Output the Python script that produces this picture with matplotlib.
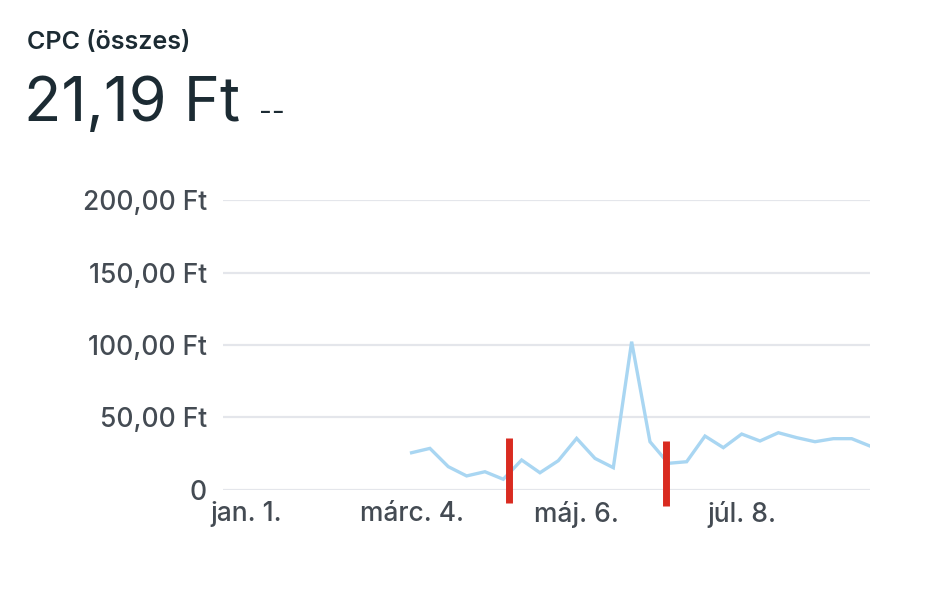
import datetime as dt
import matplotlib
matplotlib.use('Agg')
import matplotlib.pyplot as plt
import matplotlib.dates as mdates
from matplotlib.ticker import FixedLocator, FuncFormatter

plt.rcParams['font.family'] = ['Inter', 'DejaVu Sans']

# adatok (heti CPC, Ft)
start_week = dt.date(2024, 3, 4)
cpc_values = [25.7, 28.7, 16.1, 9.7, 12.6, 7.4, 20.7, 11.9, 20.2, 35.6,
              21.8, 15.4, 102.3, 33.3, 18.4, 19.5, 37.2, 29.2, 38.6, 33.8,
              39.5, 36.1, 33.3, 35.4, 35.4, 30.3]
weeks = [start_week + dt.timedelta(weeks=i) for i in range(len(cpc_values))]

tick_dates = [dt.date(2024, 1, 1), dt.date(2024, 3, 4), dt.date(2024, 5, 6), dt.date(2024, 7, 8)]
tick_labels = ['jan. 1.', 'márc. 4.', 'máj. 6.', 'júl. 8.']
y_ticks = [0, 50, 100, 150, 200]

# piros jelölések
marker_dates = [dt.date(2024, 4, 10), dt.date(2024, 6, 9)]
marker_top = [36, 34]
marker_bottom = [-9, -11]

title = 'CPC (összes)'
total = '21,19 Ft'

text_col = '#1c2b33'
tick_col = '#444b53'

fig = plt.figure(figsize=(9.46, 5.9), dpi=100)
ax = fig.add_axes([0.2357, 0.1695, 0.684, 0.4915])

ax.plot(weeks, cpc_values, color='#a9d6f2', lw=2.4, solid_joinstyle='miter', zorder=3)

for d, top, bot in zip(marker_dates, marker_top, marker_bottom):
    ax.plot([d, d], [bot, top], color='#d92b20', lw=5, solid_capstyle='butt',
            clip_on=False, zorder=4)

ax.set_ylim(0, 200)
ax.set_xlim(dt.date(2023, 12, 23), weeks[-1])
ax.yaxis.set_major_locator(FixedLocator(y_ticks))
ax.yaxis.set_major_formatter(FuncFormatter(lambda v, p: '0' if v == 0 else f'{v:.2f}'.replace('.', ',') + ' Ft'))
ax.set_xticks([mdates.date2num(d) for d in tick_dates])
ax.set_xticklabels(tick_labels)

ax.grid(axis='y', color='#e4e6eb', lw=1.6)
ax.set_axisbelow(True)
for s in ax.spines.values():
    s.set_visible(False)
ax.tick_params(axis='both', length=0, colors=tick_col, labelsize=19)
ax.tick_params(axis='y', pad=11.5)
ax.tick_params(axis='x', pad=8)
for lab in ax.get_xticklabels() + ax.get_yticklabels():
    lab.set_fontweight('medium')

fig.text(27 / 946, 1 - 42 / 590, title, fontsize=18, fontweight='semibold',
         color=text_col, va='center', ha='left')
fig.text(24 / 946, 1 - 105 / 590, total, fontsize=44, color=text_col,
         va='center', ha='left')
fig.text(259 / 946, 1 - 113 / 590, '--', fontsize=20, color=text_col,
         va='center', ha='left')

fig.savefig('out.png', dpi=100, facecolor='white')
